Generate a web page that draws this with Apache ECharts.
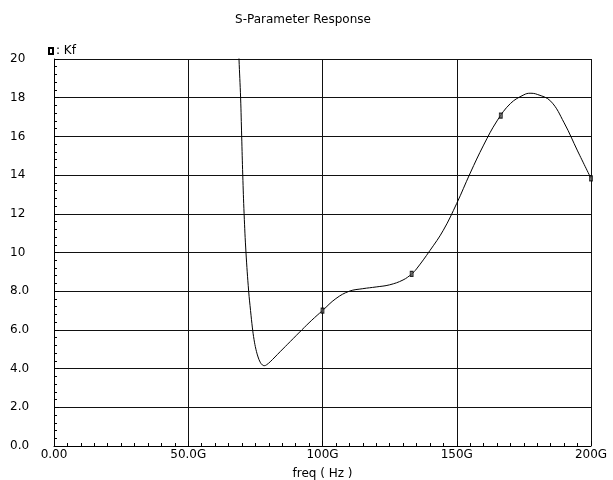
<!DOCTYPE html>
<html>
<head>
<meta charset="utf-8">
<script src="https://cdn.jsdelivr.net/npm/echarts@6/dist/echarts.min.js"></script>
<style>
  html, body { margin: 0; padding: 0; background: #fff; }
  #chart { width: 613px; height: 480px; }
</style>
</head>
<body>
<div id="chart"></div>
<script>
// Kf vs frequency, x in GHz
const freqG = [68.7, 68.9, 69.5, 69.9, 70.3, 70.8, 71.5, 72.5, 73.2, 73.9, 74.5, 75.2, 76.0, 76.8, 77.6, 78.3, 79.2, 80.5, 82.3, 84.2,
  88.0, 92.3, 96.0, 100, 105, 110, 115, 120, 125, 130, 133.2, 135, 140, 145, 150,
  155, 160, 165, 170, 175, 177.3, 180, 185, 190, 195, 200]
const kf = [21.0, 20.0, 18.0, 16.0, 14.0, 12.0, 10.0, 8.0, 7.0, 6.1, 5.5, 5.0, 4.6, 4.33, 4.19, 4.15, 4.2, 4.35, 4.6, 4.87,
  5.4, 6.0, 6.5, 7.0, 7.62, 8.0, 8.13, 8.22, 8.33, 8.58, 8.89, 9.15, 10.1, 11.15, 12.54,
  14.1, 15.55, 16.8, 17.7, 18.15, 18.23, 18.17, 17.82, 16.7, 15.25, 13.83]
// marker positions on the trace
const markFreq = [100, 133.2, 166.4, 200]
const markKf = [7.0, 8.89, 17.07, 13.83]
const xTicks = { 0: '0.00', 50: '50.0G', 100: '100G', 150: '150G', 200: '200G' }

const chart = echarts.init(document.getElementById('chart'))
const fontFam = 'DejaVu Sans'

chart.setOption({
  animation: false,
  title: {
    text: 'S-Parameter Response',
    left: 298,
    top: 9,
    textAlign: 'center',
    textStyle: { fontFamily: fontFam, fontSize: 12, fontWeight: 'normal', color: '#000' }
  },
  legend: {
    data: [{ name: 'Kf', icon: 'rect' }],
    left: 43,
    top: 40,
    itemWidth: 4,
    itemHeight: 6,
    itemGap: 4,
    formatter: () => ': Kf',
    textStyle: { fontFamily: fontFam, fontSize: 12, color: '#000', padding: [0, 0, 0, -2] }
  },
  grid: { left: 54, right: 22, top: 59, bottom: 34, outerBoundsMode: 'none', containLabel: false },
  xAxis: {
    type: 'value',
    min: 0,
    max: 200,
    interval: 50,
    name: 'freq ( Hz )',
    nameLocation: 'middle',
    nameGap: 22,
    nameTextStyle: { fontFamily: fontFam, fontSize: 12, color: '#000' },
    axisLine: { lineStyle: { color: '#000', width: 1 } },
    axisTick: { show: true, inside: true, length: 5, lineStyle: { color: '#000' } },
    minorTick: { show: true, splitNumber: 10, length: 3, lineStyle: { color: '#000' } },
    splitLine: { show: true, lineStyle: { color: '#111', width: 1 } },
    axisLabel: {
      fontFamily: fontFam, fontSize: 12, color: '#000', margin: 3,
      showMaxLabel: true, showMinLabel: true,
      formatter: v => xTicks[v]
    }
  },
  yAxis: {
    type: 'value',
    min: 0,
    max: 20,
    interval: 2,
    axisLine: { show: true, lineStyle: { color: '#000', width: 1 } },
    axisTick: { show: true, inside: true, length: 5, lineStyle: { color: '#000' } },
    minorTick: { show: true, splitNumber: 5, length: 3, lineStyle: { color: '#000' } },
    splitLine: { show: true, lineStyle: { color: '#111', width: 1 } },
    axisLabel: {
      fontFamily: fontFam, fontSize: 12, color: '#000',
      align: 'left', margin: 44, padding: [0, 0, 10, 0],
      formatter: v => (v < 10 ? v.toFixed(1) : String(v))
    }
  },
  series: [
    {
      name: 'Kf',
      type: 'line',
      data: freqG.map((f, i) => [f, kf[i]]),
      smooth: 0.4,
      showSymbol: false,
      clip: true,
      lineStyle: { color: '#000', width: 1 },
      itemStyle: { color: '#fff', borderColor: '#000', borderWidth: 1 }
    },
    {
      type: 'scatter',
      data: markFreq.map((f, i) => [f, markKf[i]]),
      symbol: 'rect',
      symbolSize: [3, 5],
      clip: false,
      itemStyle: { color: '#555', borderColor: '#000', borderWidth: 1 },
      z: 3
    }
  ]
})
</script>
</body>
</html>
